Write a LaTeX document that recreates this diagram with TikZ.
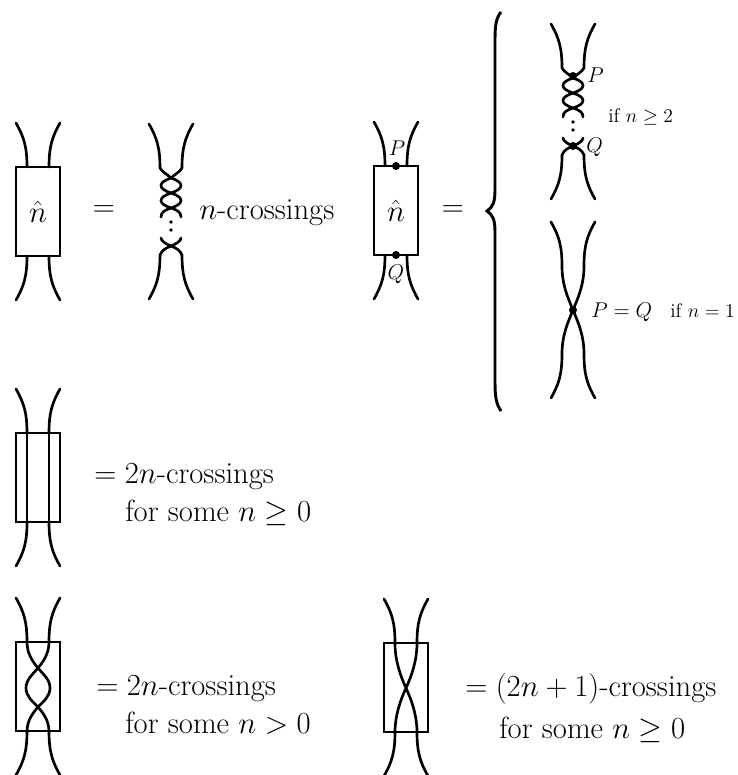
\documentclass[tikz,border=0pt]{standalone}
\usepackage{fix-cm}
\tikzset{
  strand/.style={line width=2pt, line cap=round},
  frame/.style={line width=2pt},
  biglabel/.style={font=\fontsize{23}{26}\selectfont, inner sep=0pt},
  midlabel/.style={font=\fontsize{16}{19}\selectfont, inner sep=0pt},
  smalllabel/.style={font=\fontsize{14.7}{17}\selectfont, inner sep=0pt},
  boxframe/.style={frame, draw, minimum width=33pt, minimum height=66.75pt, inner sep=0pt},
  % Extremos superiores e inferiores de cada caja
  endstop/.pic={
    \draw[strand] (-22,-44) .. controls (-14,-30) and (-11,-20) .. (-11,0);
    \draw[strand] (22,-44) .. controls (14,-30) and (11,-20) .. (11,0);
  },
  endsbottom/.pic={
    \draw[strand] (-22,44) .. controls (-14,30) and (-11,20) .. (-11,0);
    \draw[strand] (22,44) .. controls (14,30) and (11,20) .. (11,0);
  },
  % Trenza con puntos suspensivos
  twists/.pic={
    \draw[strand] (-11,-32) .. controls (-9,-28) and (-4,-26) .. (0,-22)
       .. controls (6,-20) and (10,-17.5) .. (10,-14.5) .. controls (10,-11.5) and (6,-9) .. (0,-7)
       .. controls (-6,-5) and (-10,-2.5) .. (-10,0.5) .. controls (-10,3.5) and (-6,6) .. (0,8)
       .. controls (6,10) and (10,12) .. (10,17);
    \draw[strand] (11,-32) .. controls (9,-28) and (4,-26) .. (0,-22)
       .. controls (-6,-20) and (-10,-17.5) .. (-10,-14.5) .. controls (-10,-11.5) and (-6,-9) .. (0,-7)
       .. controls (6,-5) and (10,-2.5) .. (10,0.5) .. controls (10,3.5) and (6,6) .. (0,8)
       .. controls (-6,10) and (-10,12) .. (-10,17);
    \fill (0,22) circle (1.4pt);
    \fill (0,30) circle (1.4pt);
    \draw[strand] (-10,38) .. controls (-10,41) and (-5,44) .. (0,46)
       .. controls (5,48) and (9,50) .. (11,55);
    \draw[strand] (10,38) .. controls (10,41) and (5,44) .. (0,46)
       .. controls (-5,48) and (-9,50) .. (-11,55);
  }
}
\begin{document}
\begin{tikzpicture}[x=0.75pt, y=-0.75pt]
    \useasboundingbox (0,0) rectangle (738,775);

    % Caja n con su definicion
    \node[boxframe, font=\fontsize{23}{26}\selectfont] (boxA) at (38,211.5) {$\hat{n}$};
    \pic at (38,167) {endstop};
    \pic at (38,256) {endsbottom};
    \node[biglabel] (eqA) at (104,211) {$=$};
    \pic at (171,168) {endstop};
    \pic at (171,200) {twists};
    \pic at (171,255) {endsbottom};
    \node[biglabel, anchor=base west] (textA) at (199,219) {$n$-crossings};

    % Caja con P y Q
    \node[boxframe, font=\fontsize{23}{26}\selectfont] (boxB) at (396,210.5) {$\hat{n}$};
    \pic at (396,166) {endstop};
    \pic at (396,255) {endsbottom};
    \fill (396,166) circle (3pt);
    \fill (396,255) circle (3pt);
    \node[midlabel] (pB) at (397,148) {$P$};
    \node[midlabel] (qB) at (396,274) {$Q$};
    \node[biglabel] (eqB) at (453,211) {$=$};

    % Llave
    \draw[line width=2.2pt] (501,12) .. controls (496,18) and (495,26) .. (495,40) -- (495,190)
       .. controls (495,202) and (493,207) .. (487,211)
       .. controls (493,215) and (495,220) .. (495,232) -- (495,382)
       .. controls (495,396) and (496,404) .. (501,411);

    % Caso n >= 2
    \pic at (573,68) {endstop};
    \pic at (573,100) {twists};
    \pic at (573,155) {endsbottom};
    \fill (573,76) circle (3pt);
    \fill (573,146) circle (3pt);
    \node[midlabel, anchor=west] (pC) at (587,75) {$P$};
    \node[midlabel, anchor=west] (qC) at (586,147) {$Q$};
    \node[smalllabel, anchor=base west] (ifC) at (608,122) {if $n\geq 2$};

    % Caso n = 1
    \draw[strand] (551,222) .. controls (559,236) and (562,246) .. (562,266) .. controls (562,285) and (568,298) .. (573,310)
       .. controls (578,322) and (584,335) .. (584,354) .. controls (584,374) and (587,384) .. (595,398);
    \draw[strand] (595,222) .. controls (587,236) and (584,246) .. (584,266) .. controls (584,285) and (578,298) .. (573,310)
       .. controls (568,322) and (562,335) .. (562,354) .. controls (562,374) and (559,384) .. (551,398);
    \fill (573,310) circle (3pt);
    \node[midlabel, anchor=base west] (pqD) at (591,317) {$P=Q$};
    \node[smalllabel, anchor=base west] (ifD) at (670,317) {if $n=1$};

    % Caja vacia
    \draw[strand] (27,433) -- (27,522);
    \draw[strand] (49,433) -- (49,522);
    \pic at (38,433) {endstop};
    \pic at (38,522) {endsbottom};
    \node[boxframe] (boxE) at (38,477.5) {};
    \node[biglabel, anchor=base west] (textE) at (94,483) {$=2n$-crossings};
    \node[biglabel, anchor=base west] (condE) at (125,521) {for some $n\geq 0$};

    % Caja con dos cruces
    \draw[strand] (27,642) .. controls (27,654) and (33,662) .. (38,668)
       .. controls (44,675) and (50,680) .. (50,688) .. controls (50,696) and (44,701) .. (38,707)
       .. controls (33,713) and (27,720) .. (27,732);
    \draw[strand] (49,642) .. controls (49,654) and (43,662) .. (38,668)
       .. controls (32,675) and (26,680) .. (26,688) .. controls (26,696) and (32,701) .. (38,707)
       .. controls (43,713) and (49,720) .. (49,732);
    \pic at (38,642) {endstop};
    \pic at (38,731) {endsbottom};
    \node[boxframe] (boxF) at (38,686.5) {};
    \node[biglabel, anchor=base west] (textF) at (96,695) {$=2n$-crossings};
    \node[biglabel, anchor=base west] (condF) at (125,733) {for some $n>0$};

    % Caja con un cruce
    \draw[strand] (395,643) .. controls (395,660) and (400,675) .. (406,688)
       .. controls (412,701) and (417,716) .. (417,732);
    \draw[strand] (417,643) .. controls (417,660) and (412,675) .. (406,688)
       .. controls (400,701) and (395,716) .. (395,732);
    \pic at (406,643) {endstop};
    \pic at (406,732) {endsbottom};
    \node[boxframe] (boxG) at (406,687.5) {};
    \node[biglabel, anchor=base west] (textG) at (465,696) {$=(2n+1)$-crossings};
    \node[biglabel, anchor=base west] (condG) at (499,738) {for some $n\geq 0$};
\end{tikzpicture}
\end{document}
